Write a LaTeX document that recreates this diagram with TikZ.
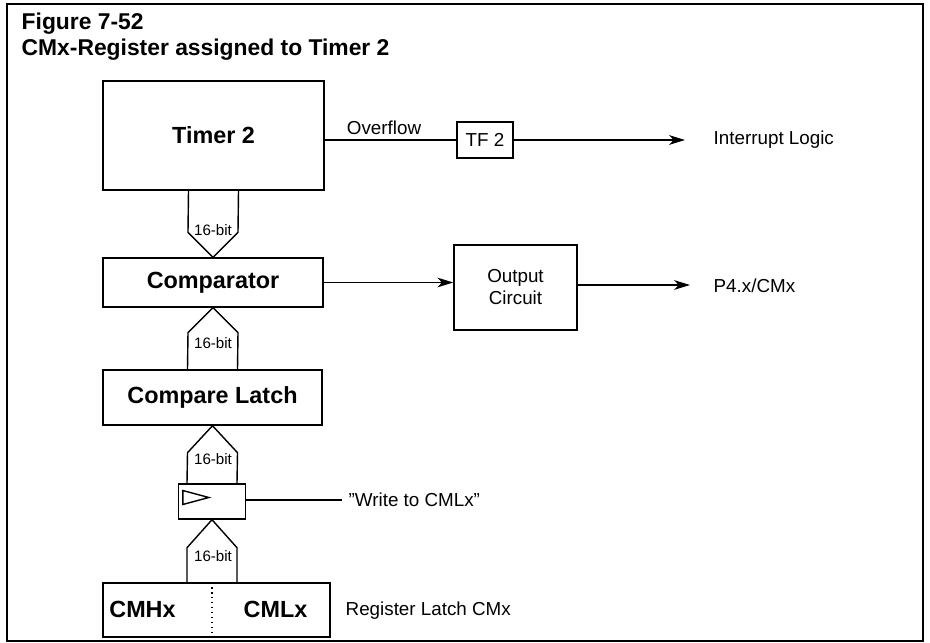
\documentclass[tikz,border=0pt]{standalone}
\usepackage{fontspec}
\setmainfont{Liberation Sans}
\usetikzlibrary{calc, arrows.meta}

\begin{document}
\begin{tikzpicture}[>={Stealth[length=9pt,width=5.5pt,inset=2.5pt]}, x=0.2mm, y=-0.2mm, line width=0.8pt,
  blk/.style={draw, inner sep=0pt},
  big/.style={font=\fontsize{13.3}{15}\selectfont\bfseries},
  txt/.style={font=\fontsize{10.7}{12.5}\selectfont},
  bits/.style={font=\fontsize{8.6}{10}\selectfont, inner sep=0pt},
  lbl/.style={txt, anchor=west, inner sep=0pt}]

\useasboundingbox (0,0) rectangle (930,643);
\draw[line width=1.2pt] (7,4) rectangle (923,641);

% Titel
\node[anchor=base west, inner sep=0pt, font=\fontsize{13}{15}\selectfont\bfseries] (fig) at (21,29) {Figure 7-52};
\node[anchor=base west, inner sep=0pt, font=\fontsize{13}{15}\selectfont\bfseries] (ttl) at (21,55) {CMx-Register assigned to Timer 2};

\node[blk, big, minimum width=4.42cm, minimum height=2.18cm] (timer) at (213.5,135.5) {Timer 2};
\node[blk, txt, minimum width=1.12cm, minimum height=0.72cm] (tf) at (485,140) {TF 2};
\node[blk, big, minimum width=4.4cm, minimum height=0.98cm] (cmp) at (213,282.5) {Comparator};
\node[blk, txt, align=center, minimum width=2.46cm, minimum height=1.7cm] (outc) at (515.5,287.5) {Output\\Circuit};
\node[blk, big, minimum width=4.38cm, minimum height=1.1cm] (lat) at (212.5,397.5) {Compare Latch};
\node[blk, minimum width=1.34cm, minimum height=0.7cm] (clk) at (212,501.5) {};
\node[blk, minimum width=4.54cm, minimum height=1.08cm] (reg) at (216.5,610) {};

\coordinate (irq) at (685,140);
\coordinate (pout) at (690,285);
\coordinate (wend) at (342,500);

% Overflow
\draw (timer.east |- tf.west) -- (tf.west);
\node[txt] (ovf) at (384,127.5) {Overflow};
\draw[->] (tf.east) -- (tf.east -| irq);
\node[lbl] (irl) at (713,140) {Interrupt Logic};

% Ausgang
\draw[->] (cmp.east) -- (cmp.east -| outc.west);
\draw[->] (outc.east |- pout) -- (pout);
\node[lbl] (p4) at (713,286) {P4.x/CMx};

% Busse
\draw ($(timer.south)+(-25,0)$) -- ($(cmp.north)+(-25,-25)$) -- (cmp.north) -- ($(cmp.north)+(25,-25)$) -- ($(timer.south)+(25,0)$);
\node[bits] (b1) at (213,230) {16-bit};
\draw ($(lat.north)+(-25,0)$) -- ($(cmp.south)+(-25,25)$) -- (cmp.south) -- ($(cmp.south)+(25,25)$) -- ($(lat.north)+(25,0)$);
\node[bits] (b2) at (213,343) {16-bit};
\draw ($(clk.north)+(-25,0)$) -- ($(lat.south)+(-25,27)$) -- (lat.south) -- ($(lat.south)+(25,27)$) -- ($(clk.north)+(25,0)$);
\node[bits] (b3) at (213,459.5) {16-bit};
\draw ($(clk.south |- reg.north)+(-25,0)$) -- ($(clk.south)+(-25,28)$) -- (clk.south) -- ($(clk.south)+(25,28)$) -- ($(clk.south |- reg.north)+(25,0)$);
\node[bits] (b4) at (213,556.5) {16-bit};

% Latch
\draw ($(clk.west)+(5,-11)$) -- ($(clk.west)+(31,-4)$) -- ($(clk.west)+(5,3)$) -- cycle;
\draw (clk.east |- wend) -- (wend);
\node[lbl] (wr) at (348,500) {''Write to CMLx''};

% Register
\draw[dotted] (reg.north -| clk.south) -- (reg.south -| clk.south);
\node[big] (cmh) at (142.5,609) {CMHx};
\node[big] (cml) at (275.5,609) {CMLx};
\node[lbl] (rl) at (345,611) {Register Latch CMx};

\end{tikzpicture}
\end{document}
